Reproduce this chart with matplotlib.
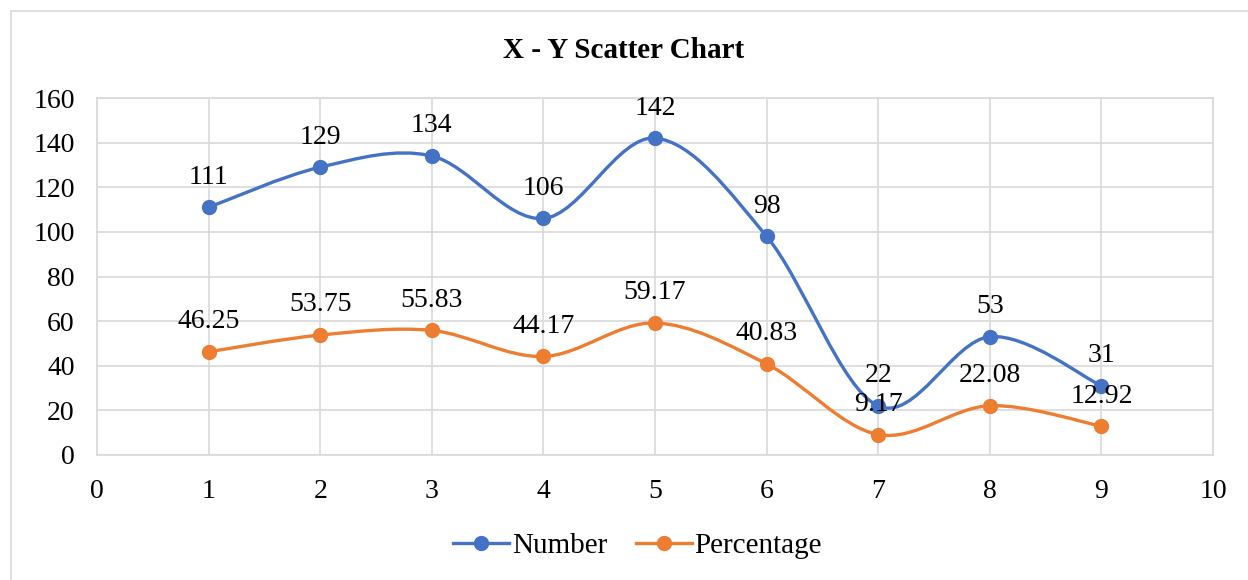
import matplotlib
matplotlib.use("Agg")
import matplotlib.pyplot as plt
from matplotlib.path import Path
from matplotlib.patches import PathPatch, Rectangle

x = [1, 2, 3, 4, 5, 6, 7, 8, 9]
number = [111, 129, 134, 106, 142, 98, 22, 53, 31]
percentage = [46.25, 53.75, 55.83, 44.17, 59.17, 40.83, 9.17, 22.08, 12.92]
number_labels = ["111", "129", "134", "106", "142", "98", "22", "53", "31"]
percentage_labels = ["46.25", "53.75", "55.83", "44.17", "59.17", "40.83", "9.17", "22.08", "12.92"]

plt.rcParams["font.family"] = ["Liberation Serif", "DejaVu Serif"]

BLUE = "#4472C4"
ORANGE = "#ED7D31"
GRID = "#D9D9D9"


def smooth_path(xs, ys):
    # excel-like bezier smoothing through the points
    pts = list(zip(xs, ys))
    verts = [pts[0]]
    codes = [Path.MOVETO]
    n = len(pts)
    for i in range(n - 1):
        p0 = pts[i - 1] if i > 0 else pts[i]
        p1 = pts[i]
        p2 = pts[i + 1]
        p3 = pts[i + 2] if i + 2 < n else pts[i + 1]
        c1 = (p1[0] + (p2[0] - p0[0]) / 6, p1[1] + (p2[1] - p0[1]) / 6)
        c2 = (p2[0] - (p3[0] - p1[0]) / 6, p2[1] - (p3[1] - p1[1]) / 6)
        verts += [c1, c2, p2]
        codes += [Path.CURVE4] * 3
    return Path(verts, codes)


fig = plt.figure(figsize=(12.48, 5.8), dpi=100)
ax = fig.add_axes([97 / 1248, 1 - 455 / 580, (1213 - 97) / 1248, (455 - 98) / 580])

fig.patches.append(Rectangle((11 / 1248, -0.1), 1.2, 1 - 11 / 580 + 0.1,
                             transform=fig.transFigure, fill=False,
                             edgecolor=GRID, linewidth=1.2))

for ys, col, name, labels in [(number, BLUE, "Number", number_labels),
                              (percentage, ORANGE, "Percentage", percentage_labels)]:
    ax.add_patch(PathPatch(smooth_path(x, ys), facecolor="none", edgecolor=col,
                           linewidth=2.4, zorder=3))
    ax.plot(x, ys, color=col, linestyle="none", marker="o", markersize=10,
            zorder=4)
    ax.plot([], [], color=col, marker="o", markersize=10, linewidth=2.4, label=name)
    for xi, yi, lab in zip(x, ys, labels):
        ax.annotate(lab, (xi, yi), xytext=(0, 17), textcoords="offset points",
                    ha="center", va="baseline", fontsize=20, zorder=5)

ax.set_xlim(0, 10)
ax.set_ylim(0, 160)
ax.set_xticks(range(0, 11))
ax.set_yticks(range(0, 161, 20))
ax.tick_params(length=0, labelsize=20)
ax.tick_params(axis="x", pad=17)
ax.tick_params(axis="y", pad=16)
ax.grid(True, color=GRID, linewidth=1.2)
ax.set_axisbelow(True)
for s in ax.spines.values():
    s.set_color(GRID)
    s.set_linewidth(1.2)

fig.text(0.5, 1 - 50 / 580, "X - Y Scatter Chart", ha="center", va="center",
         fontsize=21, fontweight="bold")

fig.legend(loc="center", bbox_to_anchor=(0.511, 1 - 546 / 580), ncol=2,
           frameon=False, fontsize=21, handlelength=1.9, handletextpad=0.1,
           columnspacing=1.0)

plt.savefig("out.png", dpi=100)
